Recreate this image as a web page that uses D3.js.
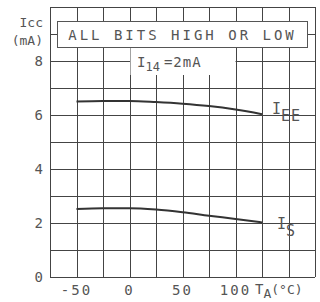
<!DOCTYPE html>
<html>
<head>
<meta charset="utf-8">
<script src="https://cdn.jsdelivr.net/npm/d3@7"></script>
<style>
  body { margin: 0; background: #fff; }
  text { font-family: "DejaVu Sans Mono", monospace; fill: #555; }
</style>
</head>
<body>
<div id="chart"></div>
<script>
//Chart data
const temps = [-50, -25, 0, 25, 50, 75, 100, 125];
const iee = [6.5, 6.52, 6.52, 6.48, 6.42, 6.33, 6.2, 6.03];
const is = [2.52, 2.55, 2.55, 2.5, 2.4, 2.27, 2.15, 2.02];
const xTicks = [-50, 0, 50, 100];
const yTicks = [0, 2, 4, 6, 8];

const w = 320, h = 302;
const m = {left: 50, right: 5, top: 7, bottom: 25};

const svg = d3.select("#chart").append("svg")
  .attr("width", w).attr("height", h);

//Scales
const x = d3.scaleLinear().domain([-75, 175]).range([m.left, w - m.right]);
const y = d3.scaleLinear().domain([0, 10]).range([h - m.bottom, m.top]);

//Grid
const grid = svg.append("g").attr("stroke", "#444").attr("stroke-width", 1);
grid.selectAll(".vx").data(d3.range(-75, 176, 25)).enter().append("line")
  .attr("x1", d => Math.round(x(d)) + 0.5).attr("x2", d => Math.round(x(d)) + 0.5)
  .attr("y1", y(0)).attr("y2", y(10));
grid.selectAll(".hy").data(d3.range(0, 11, 1)).enter().append("line")
  .attr("y1", d => Math.round(y(d)) + 0.5).attr("y2", d => Math.round(y(d)) + 0.5)
  .attr("x1", x(-75)).attr("x2", x(175));

//Header box
svg.append("rect")
  .attr("x", 57.5).attr("y", 21.5).attr("width", 250).attr("height", 26)
  .attr("fill", "#fff").attr("stroke", "#555").attr("stroke-width", 1);
svg.append("text")
  .attr("x", 182.5).attr("y", 40)
  .attr("text-anchor", "middle")
  .attr("font-size", 14).attr("letter-spacing", 3)
  .text("ALL BITS HIGH OR LOW");

//Condition label
svg.append("rect")
  .attr("x", x(0) + 1).attr("y", 48).attr("width", x(100) - x(0) - 1).attr("height", 27)
  .attr("fill", "#fff");
const cond = svg.append("text").attr("x", 137).attr("y", 67).attr("font-size", 14);
cond.append("tspan").text("I");
cond.append("tspan").attr("dy", 4).attr("font-size", 12).text("14");
cond.append("tspan").attr("dy", -4).attr("dx", 4).attr("letter-spacing", 1).text("=2mA");

//Curves
const line = d3.line().x(d => x(d[0])).y(d => y(d[1])).curve(d3.curveMonotoneX);
[iee, is].forEach(s => {
  svg.append("path")
    .datum(temps.map((t, i) => [t, s[i]]))
    .attr("d", line)
    .attr("fill", "none").attr("stroke", "#333").attr("stroke-width", 2);
});

//Curve labels
const lee = svg.append("text").attr("x", 272).attr("y", 114).attr("font-size", 15);
lee.append("tspan").text("I");
lee.append("tspan").attr("dy", 7).attr("letter-spacing", 1).text("EE");
const ls = svg.append("text").attr("x", 277).attr("y", 229).attr("font-size", 15);
ls.append("tspan").text("I");
ls.append("tspan").attr("dy", 7).text("S");

//Y axis labels
svg.selectAll(".yl").data(yTicks).enter().append("text")
  .attr("x", 43).attr("y", d => y(d) + 5)
  .attr("text-anchor", "end").attr("font-size", 14)
  .text(d => d);
svg.append("text").attr("x", 43).attr("y", 27).attr("text-anchor", "end")
  .attr("font-size", 13).text("Icc");
svg.append("text").attr("x", 43).attr("y", 45).attr("text-anchor", "end")
  .attr("font-size", 13).text("(mA)");

//X axis labels
svg.selectAll(".xl").data(xTicks).enter().append("text")
  .attr("x", d => x(d)).attr("y", 295)
  .attr("text-anchor", "middle").attr("font-size", 14).attr("letter-spacing", 2)
  .text(d => d);
const tl = svg.append("text").attr("x", 255).attr("y", 294).attr("font-size", 14);
tl.append("tspan").text("T");
tl.append("tspan").attr("dy", 4).attr("font-size", 13).text("A");
tl.append("tspan").attr("dy", -4).attr("font-size", 13).text("(°C)");
</script>
</body>
</html>
